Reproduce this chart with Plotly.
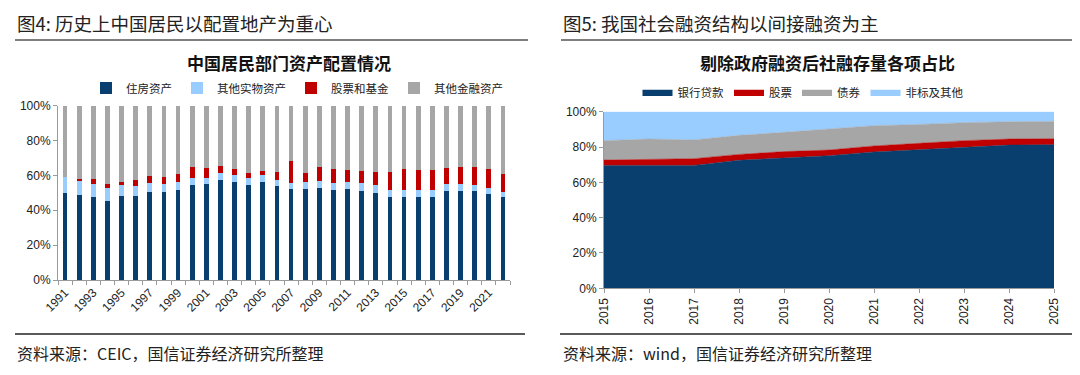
import plotly.graph_objects as go

# ---------------- Left chart data ----------------
years_left = list(range(1991, 2023))
housing = [50.1, 48.8, 47.4, 45.5, 48.2, 48.0, 50.3, 50.3, 51.8, 54.3, 54.9, 57.6, 56.0, 54.7, 56.4, 53.8,
           52.4, 52.2, 53.0, 51.6, 52.0, 51.1, 49.9, 47.6, 47.4, 47.8, 47.4, 51.1, 51.2, 51.1, 49.5, 47.4]
other_physical = [9.2, 8.2, 7.5, 7.5, 6.3, 6.1, 5.1, 4.8, 4.4, 4.0, 3.8, 3.8, 4.2, 3.6, 3.8, 3.7,
                  3.2, 3.8, 3.8, 3.8, 4.4, 4.5, 4.4, 4.0, 4.0, 3.8, 4.0, 3.8, 3.9, 3.4, 3.3, 3.3]
stocks_funds = [0.0, 0.9, 3.0, 2.1, 1.5, 3.3, 4.3, 3.8, 4.6, 6.5, 5.4, 3.8, 3.3, 2.9, 2.1, 4.5,
                12.7, 5.6, 8.2, 8.3, 6.5, 6.9, 7.7, 10.2, 12.1, 11.3, 11.7, 9.3, 9.5, 10.3, 11.1, 10.1]
other_financial = [round(100 - a - b - c, 1) for a, b, c in zip(housing, other_physical, stocks_funds)]
left_tick_years = list(range(1991, 2023, 2))

# ---------------- Right chart data ----------------
years_right = list(range(2015, 2026))
bank_loans = [69.6, 69.4, 69.6, 72.5, 74.0, 75.1, 77.2, 78.5, 80.0, 81.1, 81.3]
equities = [3.0, 3.6, 3.8, 3.3, 3.4, 3.2, 3.4, 3.6, 3.6, 3.4, 3.4]
bonds = [11.0, 11.5, 10.6, 10.8, 10.9, 11.7, 11.5, 10.7, 10.2, 9.8, 9.8]
non_standard = [round(100 - a - b - c, 1) for a, b, c in zip(bank_loans, equities, bonds)]

NAVY = "#083F6F"
LIGHT = "#99CCFF"
RED = "#C00000"
GREY = "#A6A6A6"
AXIS = "#9A9A9A"
CJK = "Noto Sans CJK SC"
LAT = "Liberation Sans"

fig = go.Figure()

left_series = [("住房资产", housing, NAVY), ("其他实物资产", other_physical, LIGHT),
               ("股票和基金", stocks_funds, RED), ("其他金融资产", other_financial, GREY)]
for name, vals, col in left_series:
    fig.add_trace(go.Bar(x=years_left, y=vals, name=name, marker=dict(color=col, line=dict(width=0)),
                         width=0.34, xaxis="x", yaxis="y", legend="legend"))

right_series = [("银行贷款", bank_loans, NAVY), ("股票", equities, RED),
                ("债券", bonds, GREY), ("非标及其他", non_standard, LIGHT)]
for name, vals, col in right_series:
    fig.add_trace(go.Scatter(x=years_right, y=vals, name=name, mode="lines", stackgroup="one",
                             line=dict(width=0.5, color=col), fillcolor=col,
                             xaxis="x2", yaxis="y2", legend="legend2"))

W, H = 1080, 375
OFF = 8  # the page body adds an 8px margin around the figure
def px(x):
    return (x - OFF) / W
def py(y):
    return (H - (y - OFF)) / H

tickfont = dict(family=LAT, size=12, color="#222")

fig.update_layout(
    width=W, height=H, margin=dict(l=0, r=0, t=0, b=0, autoexpand=False),
    paper_bgcolor="white", plot_bgcolor="white",
    barmode="stack", showlegend=True,
    font=dict(family=CJK, color="#222"),
    xaxis=dict(domain=[px(58), px(510)], range=[1990.5, 2022.5], anchor="y", automargin=False,
               tickvals=left_tick_years, ticktext=[str(y) for y in left_tick_years],
               tickangle=-45, ticks="", showline=True, linecolor=AXIS, linewidth=1,
               showgrid=False, zeroline=False, tickfont=tickfont,
               minor=dict(ticks="outside", tick0=1990.5, dtick=1, ticklen=4, tickcolor=AXIS, showgrid=False)),
    yaxis=dict(domain=[py(280), py(105.7)], range=[0, 100], anchor="x", automargin=False,
               tickvals=[0, 20, 40, 60, 80, 100], ticktext=["0%", "20%", "40%", "60%", "80%", "100%"],
               ticks="outside", ticklen=4, tickcolor=AXIS, showline=True, linecolor=AXIS,
               showgrid=False, zeroline=False, tickfont=tickfont),
    xaxis2=dict(domain=[px(604), px(1054)], range=[2015, 2025], anchor="y2", automargin=False,
                tickvals=years_right, ticktext=[str(y) for y in years_right], tickangle=-90,
                ticks="outside", ticklen=4, tickcolor=AXIS, showline=True, linecolor=AXIS,
                showgrid=False, zeroline=False, tickfont=tickfont),
    yaxis2=dict(domain=[py(288.3), py(111.7)], range=[0, 100], anchor="x2", automargin=False,
                tickvals=[0, 20, 40, 60, 80, 100], ticktext=["0%", "20%", "40%", "60%", "80%", "100%"],
                ticks="outside", ticklen=4, tickcolor=AXIS, showline=True, linecolor=AXIS,
                showgrid=False, zeroline=False, tickfont=tickfont),
    legend=dict(orientation="h", x=px(297), xanchor="center", y=py(88), yanchor="middle",
                font=dict(family=CJK, size=11.5, color="#222"), itemwidth=30, traceorder="normal",
                bgcolor="rgba(0,0,0,0)", itemclick=False),
    legend2=dict(orientation="h", x=px(803), xanchor="center", y=py(92), yanchor="middle",
                 font=dict(family=CJK, size=11.5, color="#222"), itemwidth=30, traceorder="normal",
                 bgcolor="rgba(0,0,0,0)", itemclick=False),
)

annotations = [
    dict(text="图4: 历史上中国居民以配置地产为重心", x=px(15), y=py(23), xanchor="left", yanchor="middle",
         font=dict(family=CJK, size=18.5, color="#222")),
    dict(text="图5: 我国社会融资结构以间接融资为主", x=px(561), y=py(23), xanchor="left", yanchor="middle",
         font=dict(family=CJK, size=18.5, color="#222")),
    dict(text="<b>中国居民部门资产配置情况</b>", x=px(289), y=py(62), xanchor="center", yanchor="middle",
         font=dict(family=CJK, size=17, color="#111")),
    dict(text="<b>剔除政府融资后社融存量各项占比</b>", x=px(827), y=py(62), xanchor="center", yanchor="middle",
         font=dict(family=CJK, size=17, color="#111")),
    dict(text="资料来源：CEIC，国信证券经济研究所整理", x=px(15), y=py(353), xanchor="left", yanchor="middle",
         font=dict(family=CJK, size=16, color="#222")),
    dict(text="资料来源：wind，国信证券经济研究所整理", x=px(561), y=py(353), xanchor="left", yanchor="middle",
         font=dict(family=CJK, size=16, color="#222")),
]
for a in annotations:
    a.update(xref="paper", yref="paper", showarrow=False)
fig.update_layout(annotations=annotations)

shapes = [
    dict(x0=px(15), x1=px(528), y0=py(40), y1=py(40), line=dict(color="#555", width=1.5)),
    dict(x0=px(561), x1=px(1075), y0=py(40), y1=py(40), line=dict(color="#555", width=1.5)),
    dict(x0=px(15), x1=px(525), y0=py(334), y1=py(334), line=dict(color="#222", width=1.5)),
    dict(x0=px(560), x1=px(1075), y0=py(334), y1=py(334), line=dict(color="#222", width=1.5)),
]
for s in shapes:
    s.update(type="line", xref="paper", yref="paper")
fig.update_layout(shapes=shapes)

fig.write_html("out.html")
